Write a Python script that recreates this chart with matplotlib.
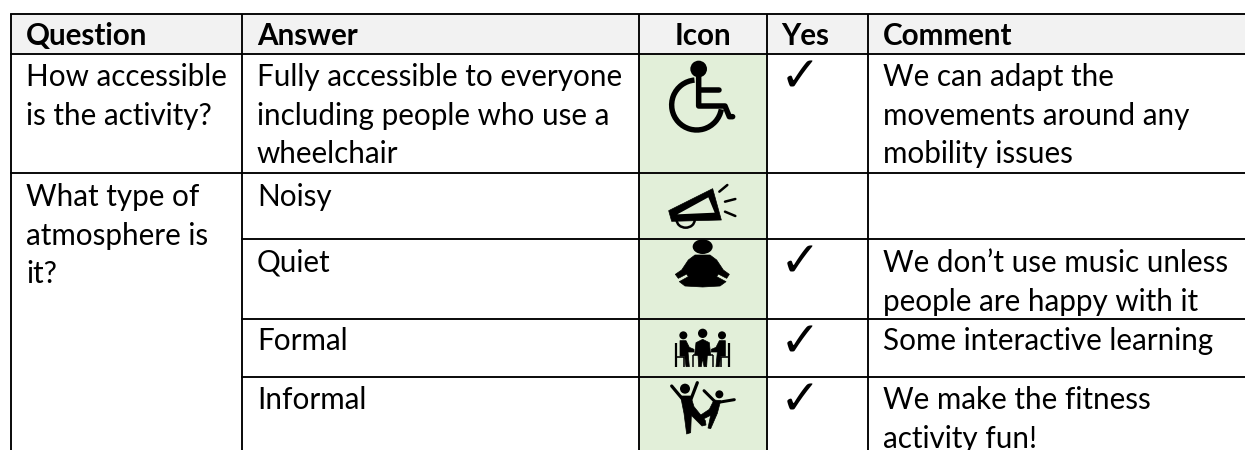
import matplotlib
matplotlib.use("Agg")
import matplotlib.pyplot as plt
from matplotlib.patches import Rectangle, Polygon, Ellipse, Circle, Arc

plt.rcParams['font.family'] = ['Lato', 'DejaVu Sans']

headers = ["Question", "Answer", "Icon", "Yes", "Comment"]
questions = [["How accessible", "is the activity?"],
             ["What type of", "atmosphere is", "it?"]]
question_base = [86, 206]
answers = [["Fully accessible to everyone", "including people who use a", "wheelchair"],
           ["Noisy"], ["Quiet"], ["Formal"], ["Informal"]]
answer_base = [86, 206, 272, 350, 409]
comments = [["We can adapt the", "movements around any", "mobility issues"],
            [],
            ["We don\u2019t use music unless", "people are happy with it"],
            ["Some interactive learning"],
            ["We make the fitness", "activity fun!"]]
ticked = [True, False, True, True, True]
tick_y = [77, 0, 262, 342, 400]

col_x = [11, 241.5, 639, 766.5, 867.5, 1245]
row_y = [14, 53.5, 173, 238.5, 319, 376.7, 450]
line_gap = 38.7
font_px = 29.6
fs = font_px * 0.72
LW = 1.35

fig = plt.figure(figsize=(12.45, 4.5), dpi=100)
ax = fig.add_axes([0, 0, 1, 1])
ax.set_xlim(0, 1245)
ax.set_ylim(450, 0)
ax.axis('off')

# fills
ax.add_patch(Rectangle((col_x[0], row_y[0]), 1245 - col_x[0], row_y[1] - row_y[0], fc='#f2f2f2', ec='none'))
ax.add_patch(Rectangle((col_x[2], row_y[1]), col_x[3] - col_x[2], 450 - row_y[1], fc='#e2efd9', ec='none'))

# grid
for x in col_x[:5]:
    ax.plot([x, x], [row_y[0], 450], color='k', lw=LW, solid_capstyle='butt')
ax.plot([col_x[0], 1245], [row_y[0], row_y[0]], color='k', lw=LW)
ax.plot([col_x[0], 1245], [row_y[1], row_y[1]], color='k', lw=LW)
ax.plot([col_x[0], 1245], [row_y[2], row_y[2]], color='k', lw=LW)
for y in row_y[3:6]:
    ax.plot([col_x[1], 1245], [y, y], color='k', lw=LW)

# text
def lines(x, base, rows):
    for i, t in enumerate(rows):
        ax.text(x, base + i * line_gap, t, fontsize=fs, va='baseline', ha='left', color='k', clip_on=False)

ax.text(26, 45, headers[0], fontsize=fs, weight='bold', va='baseline')
ax.text(257, 45, headers[1], fontsize=fs, weight='bold', va='baseline')
ax.text(703, 45, headers[2], fontsize=fs, weight='bold', va='baseline', ha='center')
ax.text(781, 45, headers[3], fontsize=fs, weight='bold', va='baseline')
ax.text(883, 45, headers[4], fontsize=fs, weight='bold', va='baseline')

for rows, b in zip(questions, question_base):
    lines(26, b, rows)
for rows, b in zip(answers, answer_base):
    lines(257, b, rows)
for rows, b in zip(comments, answer_base):
    lines(883, b, rows)

for t, y in zip(ticked, tick_y):
    if t:
        ax.text(800, y, "\u2713", family='DejaVu Sans', fontsize=35, weight='bold', ha='center', va='center', color='k')

# icons, shapes traced in 3x crop coordinates
def P(x, y, oy=0):
    return 620 + x / 3, oy + y / 3

def stroke(pts, oy=0, w=5, cap='round'):
    xy = [P(a, b, oy) for a, b in pts]
    ax.plot([p[0] for p in xy], [p[1] for p in xy], color='k', lw=w * 0.72,
            solid_capstyle=cap, solid_joinstyle='round')

def blob(pts, oy=0):
    ax.add_patch(Polygon([P(a, b, oy) for a, b in pts], closed=True, fc='k', ec='k', lw=0.5, joinstyle='round'))

def dot(x, y, r, oy=0):
    ax.add_patch(Circle(P(x, y, oy), r / 3, fc='k', ec='none'))

# wheelchair
dot(236, 207, 25)
stroke([(236, 225), (236, 318), (315, 318), (328, 350), (338, 350)], w=5.5)
stroke([(236, 270), (298, 270)], w=5.5)
cx, cy = P(230, 315)
ax.add_patch(Arc((cx, cy), 150 / 3, 150 / 3, theta1=10, theta2=265, color='k', lw=3.9))

# megaphone
blob([(146, 632), (278, 566), (304, 660), (155, 664)])
ax.add_patch(Polygon([P(172, 643), P(265, 592), P(284, 638)], closed=True, fc='#e2efd9', ec='none'))
ax.add_patch(Arc(P(197, 660), 54 / 3, 46 / 3, theta1=0, theta2=180, color='k', lw=1.8))
stroke([(298, 575), (322, 555)], w=2.5)
stroke([(315, 605), (346, 597)], w=2.5)
stroke([(315, 635), (346, 648)], w=2.5)

# meditating person
ax.add_patch(Ellipse(P(248, 50, 230), 60 / 3, 44 / 3, fc='k', ec='none'))
blob([(225, 75), (270, 75), (290, 90), (310, 120), (328, 133), (320, 145), (295, 132),
      (290, 140), (318, 155), (300, 168), (248, 171), (195, 168), (178, 155), (205, 140),
      (200, 132), (175, 145), (166, 133), (185, 120), (205, 90)], 230)

# meeting
for hx, hy, r in [(190, 316, 12), (248, 310, 14), (306, 316, 12)]:
    dot(hx, hy, r, 230)
blob([(228, 338), (248, 328), (268, 338), (272, 375), (262, 375), (260, 410), (252, 410),
      (248, 385), (244, 410), (236, 410), (234, 375), (224, 375)], 230)
stroke([(218, 375), (278, 375)], 230, 1.5, 'butt')
stroke([(218, 375), (218, 410)], 230, 1.5, 'butt')
stroke([(278, 375), (278, 410)], 230, 1.5, 'butt')
for s in (1, -1):
    mx = lambda v: v if s == 1 else 496 - v
    blob([(mx(180), 332), (mx(198), 332), (mx(208), 352), (mx(222), 358), (mx(222), 366),
          (mx(204), 366), (mx(208), 410), (mx(198), 410), (mx(194), 378), (mx(180), 378)], 230)
    stroke([(mx(168), 340), (mx(168), 410)], 230, 2.2, 'butt')
    stroke([(mx(168), 380), (mx(192), 380), (mx(192), 410)], 230, 1.6, 'butt')

# dancers
dot(195, 476, 15, 230)
blob([(182, 498), (212, 498), (222, 530), (256, 572), (258, 585), (246, 588), (214, 556),
      (212, 608), (200, 612), (192, 550), (186, 520)], 230)
stroke([(155, 468), (190, 510)], 230, 3.2)
stroke([(232, 458), (212, 510)], 230, 3.2)
dot(298, 493, 12, 230)
blob([(282, 510), (302, 512), (292, 550), (272, 596), (264, 594), (272, 556), (248, 568),
      (238, 558), (268, 538)], 230)
stroke([(252, 482), (290, 520)], 230, 3)
stroke([(295, 517), (343, 509)], 230, 3)

fig.savefig("out.png", dpi=100)
